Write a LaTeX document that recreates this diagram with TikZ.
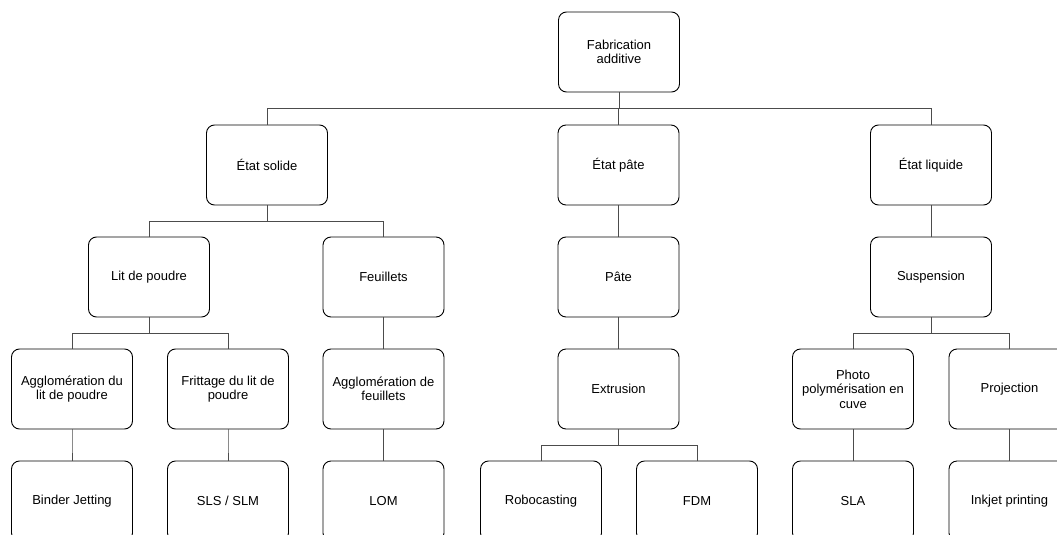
\documentclass[tikz,border=0pt]{standalone}
\usepackage{fontspec}
\setmainfont{Liberation Sans}
\begin{document}
\begin{tikzpicture}[x=1pt,y=-1pt,
  box/.style={draw=black,line width=0.9pt,rounded corners=8pt,minimum width=121pt,minimum height=80pt,align=center,inner sep=2pt,font=\fontsize{13}{14.5}\selectfont},
  conn/.style={draw=black!70,line width=1pt}]
\useasboundingbox (0,0) rectangle (1057,535);
\clip (0,0) rectangle (1057,535);
\node[box] (fa) at (619,52) {Fabrication\\additive};
\node[box] (es) at (267,165) {État solide};
\node[box] (ep) at (618.5,165) {État pâte};
\node[box] (el) at (931,165) {État liquide};
\node[box] (lp) at (149,277) {Lit de poudre};
\node[box] (fe) at (383.5,277) {Feuillets};
\node[box] (pa) at (618.5,277) {Pâte};
\node[box] (su) at (931,277) {Suspension};
\node[box] (al) at (72,389) {Agglomération du\\lit de poudre};
\node[box] (fr) at (228,389) {Frittage du lit de\\poudre};
\node[box] (af) at (383.5,389) {Agglomération de\\feuillets};
\node[box] (ex) at (618.5,389) {Extrusion};
\node[box] (ph) at (853,389) {Photo\\polymérisation en\\cuve};
\node[box] (pr) at (1009.5,389) {Projection};
\node[box] (bj) at (72,501) {Binder Jetting};
\node[box] (sl) at (228,501) {SLS / SLM};
\node[box] (lo) at (383.5,501) {LOM};
\node[box] (ro) at (541,501) {Robocasting};
\node[box] (fd) at (697,501) {FDM};
\node[box] (sa) at (853,501) {SLA};
\node[box] (ij) at (1009.5,501) {Inkjet printing};
\foreach \p/\c in {fa/es,fa/ep,fa/el,es/lp,es/fe,ep/pa,el/su,lp/al,lp/fr,fe/af,pa/ex,su/ph,su/pr,al/bj,fr/sl,af/lo,ex/ro,ex/fd,ph/sa,pr/ij}
  \draw[conn] (\p.south) -- ++(0,16) -| (\c.north);
\end{tikzpicture}
\end{document}
